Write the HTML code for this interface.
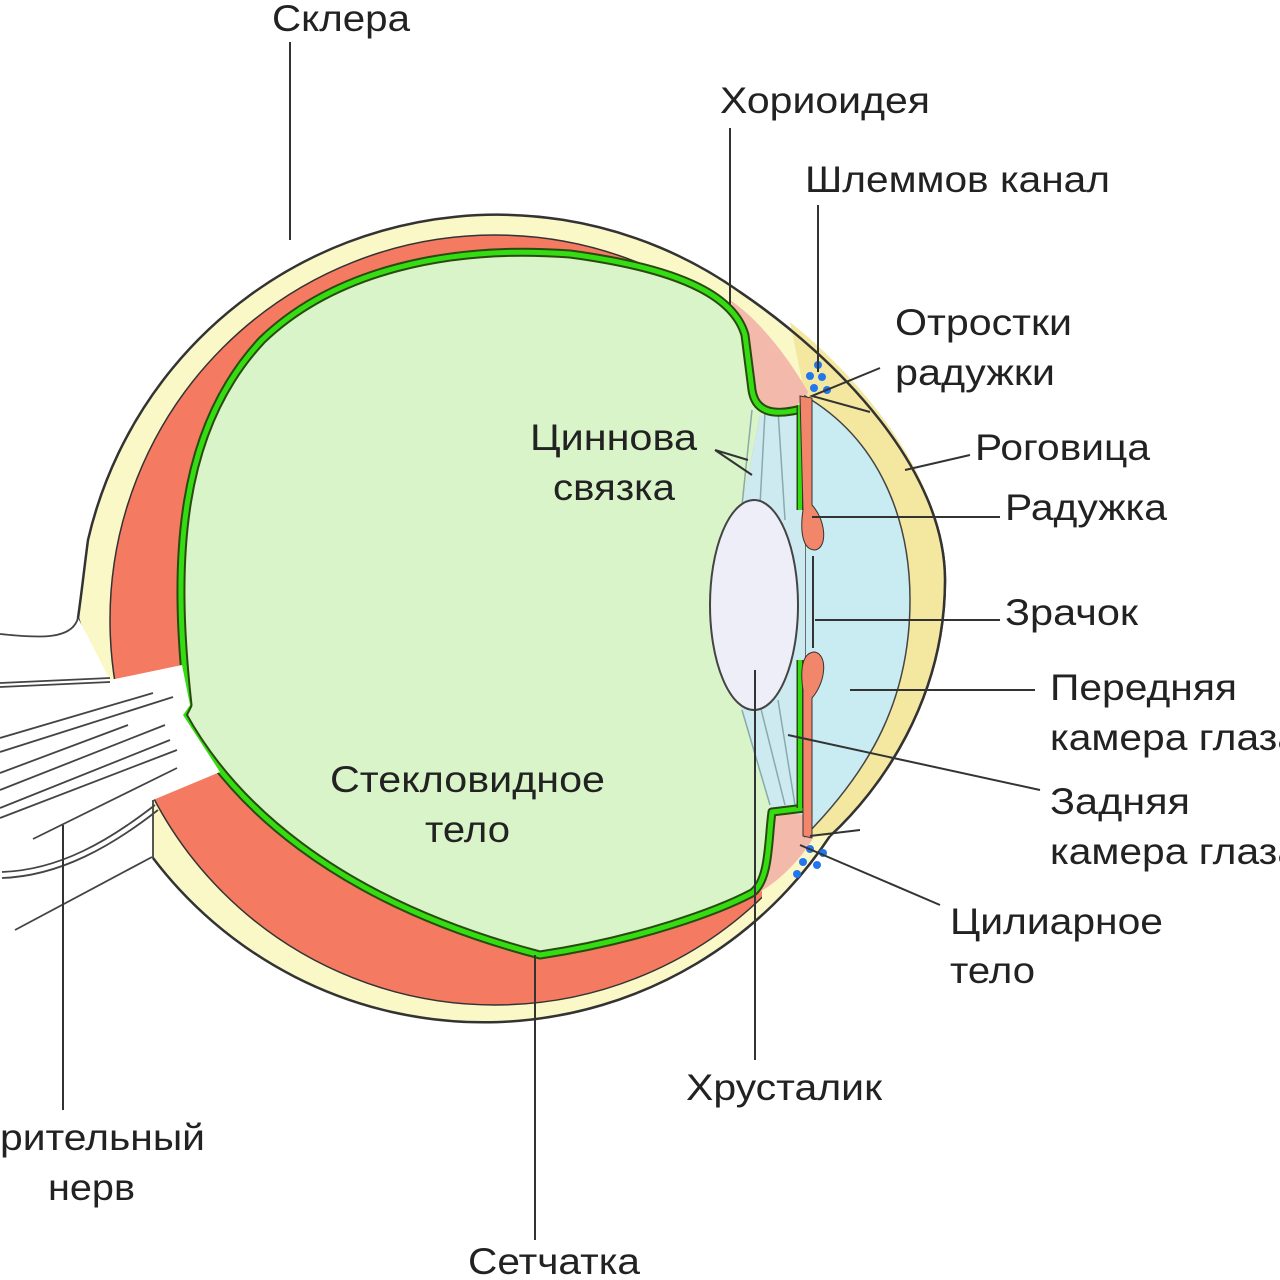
<!DOCTYPE html>
<html><head><meta charset="utf-8"><style>
html,body{margin:0;padding:0;background:#fff}
svg{display:block}
text{font-family:"Liberation Sans",sans-serif;font-size:37px;fill:#222}
</style></head><body>
<svg width="1280" height="1280" viewBox="0 0 1280 1280" xmlns="http://www.w3.org/2000/svg">
<defs>
<clipPath id="post"><path d="M0 0 H762 V1280 H0 Z"/></clipPath>
</defs>
<path d="M78 618 C82 590 84 570 88 540 A420 420 0 0 1 740 292 C840 360 945 470 945 580 C945 700 880 790 830 836 A415 415 0 0 1 153 858 Z" fill="#fbf8c8" stroke="#333" stroke-width="2.5"/>
<path d="M790 322 C850 370 945 470 945 580 C945 700 880 790 830 836 L805 836 C870 770 910 700 910 600 C910 520 880 440 805 396 Z" fill="#f4e8a0"/>
<path d="M740 292 C840 360 945 470 945 580 C945 700 880 790 830 836" fill="none" stroke="#333" stroke-width="2.5"/>
<circle cx="495" cy="620" r="385" fill="#f47a62" stroke="#333" stroke-width="1.5" clip-path="url(#post)"/>
<path d="M730 300 C760 320 790 360 808 392 L805 400 C790 410 770 418 752 405 L746 335 Z" fill="#f3b9aa"/>
<path d="M770 810 L800 800 C805 820 810 835 812 840 C800 860 780 880 760 892 L768 840 Z" fill="#f3b9aa"/>
<path d="M805 396 C880 440 910 520 910 600 C910 700 870 770 805 836 Z" fill="#c9ecf3" stroke="#444" stroke-width="1.5"/>
<path d="M760 415 L805 405 L805 815 L772 812 L742 710 L712 605 L742 505 Z" fill="#cdeaf1"/>
<path d="M188 705 C172 560 178 430 262 340 C335 270 450 245 570 254 C690 270 735 300 745 335 L752 390 C755 410 770 418 760 415 L742 505 L712 605 L742 710 L772 812 C768 840 770 880 752 893 C720 910 640 940 540 955 C330 900 230 800 183 715 Z" fill="#d9f4c8"/>
<g stroke="#8aa" stroke-width="1.5" fill="none">
<path d="M752 410 L742 505"/><path d="M765 412 L760 505"/><path d="M778 410 L785 520"/>
<path d="M742 710 L770 805"/><path d="M760 705 L785 805"/><path d="M778 700 L795 805"/>
</g>
<g fill="none" stroke-linejoin="round">
<path d="M805 408 C770 418 755 410 752 390 L745 335 C735 300 690 270 570 254 C450 245 335 270 262 340 C178 430 172 560 188 705 L183 715 C230 800 330 900 540 955 C640 940 720 910 752 893 C770 880 768 840 772 812 L805 808" stroke="#2a4a10" stroke-width="9"/>
<path d="M805 408 C770 418 755 410 752 390 L745 335 C735 300 690 270 570 254 C450 245 335 270 262 340 C178 430 172 560 188 705 L183 715 C230 800 330 900 540 955 C640 940 720 910 752 893 C770 880 768 840 772 812 L805 808" stroke="#33dd11" stroke-width="5"/>
<path d="M800 405 L800 510 M800 660 L800 808" stroke="#2a4a10" stroke-width="7"/>
<path d="M800 405 L800 510 M800 660 L800 808" stroke="#33dd11" stroke-width="4"/>
</g>
<path d="M800 396 L812 398 L812 505 C826 520 828 548 815 550 C802 550 800 530 803 510 Z" fill="#f2866a" stroke="#333" stroke-width="1"/>
<path d="M815 652 C828 655 826 682 812 698 L812 838 L803 836 L803 690 C800 670 802 652 815 652 Z" fill="#f2866a" stroke="#333" stroke-width="1"/>
<line x1="813" y1="556" x2="813" y2="648" stroke="#333" stroke-width="2"/>
<ellipse cx="754" cy="605" rx="44" ry="105" fill="#eeeef8" stroke="#444" stroke-width="2"/>
<g fill="#2277ee">
<circle cx="818" cy="365" r="4"/><circle cx="810" cy="376" r="4"/><circle cx="822" cy="377" r="4"/><circle cx="814" cy="388" r="4"/><circle cx="827" cy="390" r="4"/>
<circle cx="810" cy="849" r="4"/><circle cx="823" cy="853" r="4"/><circle cx="803" cy="862" r="4"/><circle cx="817" cy="865" r="4"/><circle cx="797" cy="874" r="4"/>
</g>
<path d="M0 636 C40 640 70 640 78 618 L110 680 L182 665 L190 705 L183 715 L220 772 L153 800 L153 858 C100 880 40 890 0 890 Z" fill="#fff"/>
<g stroke="#444" stroke-width="1.8" fill="none">
<path d="M0 634 C40 638 72 640 78 618"/>
<path d="M0 683 L110 678 M0 687 L110 682"/>
<path d="M0 738 L153 693 M0 752 L173 697 M0 773 L128 725 M0 790 L165 725 M0 808 L170 740 M0 818 L177 750 M33 839 L177 768"/>
<path d="M2 872 C60 870 110 840 155 805 M2 878 C60 876 112 846 158 810"/>
<path d="M15 930 L152 857"/>
<path d="M153 800 L153 858"/>
</g>
<g stroke="#333" stroke-width="2" fill="none">
<path d="M290 42 V240"/>
<path d="M730 128 V305"/>
<path d="M818 205 V372"/>
<path d="M880 368 L812 396 L870 412"/>
<path d="M905 470 L970 455"/>
<path d="M812 517 H1000"/>
<path d="M815 620 H1000"/>
<path d="M850 690 H1035"/>
<path d="M788 735 L1040 790"/>
<path d="M800 845 L940 905"/>
<path d="M755 670 V1060"/>
<path d="M535 955 V1240"/>
<path d="M63 825 V1110"/>
<path d="M715 450 L752 475 M715 450 L748 460"/>
<path d="M810 836 L860 830"/>
</g>
<g lengthAdjust="spacingAndGlyphs">
<text x="272" y="31" textLength="138" lengthAdjust="spacingAndGlyphs">Склера</text>
<text x="720" y="113" textLength="210" lengthAdjust="spacingAndGlyphs">Хориоидея</text>
<text x="805" y="192" textLength="305" lengthAdjust="spacingAndGlyphs">Шлеммов канал</text>
<text x="895" y="335" textLength="177" lengthAdjust="spacingAndGlyphs">Отростки</text>
<text x="895" y="385" textLength="160" lengthAdjust="spacingAndGlyphs">радужки</text>
<text x="975" y="460" textLength="175" lengthAdjust="spacingAndGlyphs">Роговица</text>
<text x="1005" y="520" textLength="162" lengthAdjust="spacingAndGlyphs">Радужка</text>
<text x="1005" y="625" textLength="133" lengthAdjust="spacingAndGlyphs">Зрачок</text>
<text x="1050" y="700" textLength="187" lengthAdjust="spacingAndGlyphs">Передняя</text>
<text x="1050" y="750" textLength="250" lengthAdjust="spacingAndGlyphs">камера глаза</text>
<text x="1050" y="814" textLength="140" lengthAdjust="spacingAndGlyphs">Задняя</text>
<text x="1050" y="864" textLength="250" lengthAdjust="spacingAndGlyphs">камера глаза</text>
<text x="950" y="934" textLength="213" lengthAdjust="spacingAndGlyphs">Цилиарное</text>
<text x="950" y="983" textLength="85" lengthAdjust="spacingAndGlyphs">тело</text>
<text x="686" y="1100" textLength="196" lengthAdjust="spacingAndGlyphs">Хрусталик</text>
<text x="468" y="1274" textLength="172" lengthAdjust="spacingAndGlyphs">Сетчатка</text>
<text x="0" y="1150" textLength="205" lengthAdjust="spacingAndGlyphs">рительный</text>
<text x="48" y="1200" textLength="87" lengthAdjust="spacingAndGlyphs">нерв</text>
<text x="530" y="450" textLength="167" lengthAdjust="spacingAndGlyphs">Циннова</text>
<text x="553" y="500" textLength="122" lengthAdjust="spacingAndGlyphs">связка</text>
<text x="330" y="792" textLength="275" lengthAdjust="spacingAndGlyphs">Стекловидное</text>
<text x="425" y="842" textLength="85" lengthAdjust="spacingAndGlyphs">тело</text>
</g>
</svg>
</body></html>
